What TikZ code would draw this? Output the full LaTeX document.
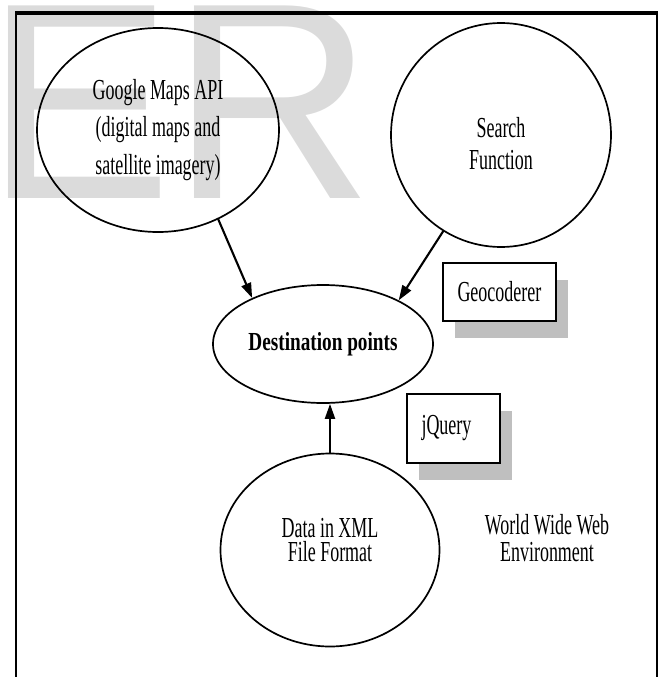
\documentclass[tikz,border=0pt]{standalone}
\usepackage{fontspec}
\setmainfont{Liberation Serif}
\newfontfamily\condfont[FakeStretch=0.62]{Liberation Serif}
\newfontfamily\destfont[FakeStretch=0.74]{Liberation Serif}
\newfontfamily\markfont{Liberation Sans}
\usetikzlibrary{shapes.geometric,shadows,arrows.meta}

\begin{document}
\begin{tikzpicture}
		[x=1pt,y=-1pt,line cap=round,
		%Styles
		bubble/.style={ellipse,draw,line width=1.7pt,inner sep=0pt},
		bubbletext/.style={font=\condfont\fontsize{29}{#1}\selectfont,align=center},
		bubbletext/.default=30,
		shadowbox/.style={rectangle,draw,line width=1.8pt,fill=white,inner xsep=14.5pt,inner ysep=0pt,
			align=left,font=\condfont\fontsize{29}{30}\selectfont,
			drop shadow={shadow xshift=12pt,shadow yshift=-17pt,fill=shadowgray,opacity=1}},
		link/.style={-{Triangle[length=15pt,width=10pt]},line width=2.1pt}
		]
		
		%Colors
		\colorlet{markgray}{black!14}	%watermark letters
		\colorlet{shadowgray}{black!25}	%box shadows
		
		\useasboundingbox (0,0) rectangle (659,677);
		
		%Watermark and frame
		\node[anchor=base west,inner sep=0pt,text=markgray,font=\markfont\fontsize{280}{280}\selectfont] (mark) at (-15,198) {ER};
		\draw[line width=2.4pt,line cap=butt] (16,677) -- (16,13) -- (657,13) -- (657,677);
		\draw[line width=3.2pt,line cap=butt] (15,13) -- (658,13);
		
		%The graphic
		\node[bubble,bubbletext=37.5,minimum width=242pt,minimum height=204pt] (maps) at (158,130) {Google Maps API\\(digital maps and\\satellite imagery)};
		\node[bubble,minimum width=220pt,minimum height=224pt] (search) at (501,135) {};
		\node[bubbletext=32] (searchtext) at ([yshift=-9pt]search.center) {Search\\Function};
		\node[bubble,font=\destfont\bfseries\fontsize{26}{30}\selectfont,minimum width=220pt,minimum height=118pt] (dest) at (323,344) {Destination points};
		\node[bubble,minimum width=219pt,minimum height=193pt] (xml) at (330,550) {};
		\node[bubbletext=24] (xmltext) at ([yshift=10pt]xml.center) {Data in XML\\File Format};
		
		\node[shadowbox,text width=84pt,minimum height=58pt] (geo) at (499.5,292) {Geocoderer};
		\node[shadowbox,text width=64pt,minimum height=69pt] (jquery) at (453.5,428.5) {jQuery};
		
		\node[bubbletext=27] (www) at (547,538) {World Wide Web\\Environment};
		
		\draw[link] (maps.-56) -- (dest.147);
		\draw[link] (search.-121) -- (dest.30);
		\draw[link] (xml.north) -- (xml.north |- dest.south);
	\end{tikzpicture}
\end{document}
